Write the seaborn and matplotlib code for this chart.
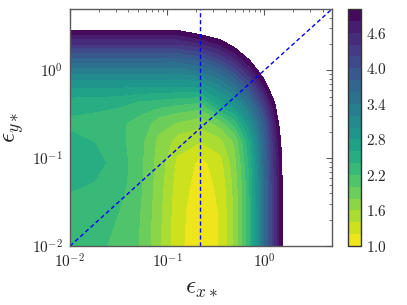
import numpy as np
import matplotlib
matplotlib.use("Agg")
import matplotlib.pyplot as plt
import seaborn as sns
from matplotlib.ticker import FixedLocator, LogLocator, FuncFormatter, NullFormatter

# ---- data -----------------------------------------------------------------
# grid exponents (log10 of eps_x*, eps_y*)
x_exp = [-2.0, -1.75, -1.5, -1.3, -1.1, -0.9, -0.66, -0.45, -0.3, -0.15, 0.0, 0.1, 0.2, 0.7]
y_exp = [-2.0, -1.6, -1.3, -1.05, -0.8, -0.6, -0.4, -0.2, 0.0, 0.15, 0.3, 0.45, 0.55, 0.7]

# field values, one list per x column (bottom -> top)
z_x_m200 = [2.30, 2.36, 2.42, 2.53, 2.44, 2.36, 2.47, 2.78, 3.31, 3.80, 4.40, 4.97, 5.37, 6.0]
z_x_m175 = [2.27, 2.32, 2.39, 2.47, 2.39, 2.33, 2.45, 2.78, 3.31, 3.80, 4.40, 4.97, 5.37, 6.0]
z_x_m150 = [2.11, 2.20, 2.28, 2.29, 2.25, 2.23, 2.42, 2.78, 3.31, 3.80, 4.40, 4.97, 5.37, 6.0]
z_x_m130 = [2.00, 2.03, 2.06, 2.07, 2.08, 2.14, 2.30, 2.77, 3.31, 3.80, 4.40, 4.97, 5.37, 6.0]
z_x_m110 = [1.65, 1.67, 1.70, 1.72, 1.76, 1.90, 2.25, 2.76, 3.31, 3.80, 4.40, 4.97, 5.37, 6.0]
z_x_m090 = [1.25, 1.26, 1.30, 1.36, 1.52, 1.78, 2.18, 2.75, 3.30, 3.80, 4.40, 4.98, 5.37, 6.0]
z_x_m066 = [1.05, 1.07, 1.10, 1.14, 1.42, 1.68, 2.10, 2.78, 3.42, 3.95, 4.56, 5.20, 5.55, 6.1]
z_x_m045 = [1.22, 1.22, 1.26, 1.33, 1.55, 1.90, 2.64, 3.12, 3.73, 4.29, 4.83, 5.42, 5.82, 6.3]
z_x_m030 = [1.64, 1.65, 1.68, 1.74, 1.85, 2.30, 2.90, 3.44, 4.11, 4.65, 5.18, 5.76, 6.10, 6.6]
z_x_m015 = [2.36, 2.36, 2.38, 2.45, 2.58, 2.98, 3.42, 3.98, 4.64, 5.13, 5.67, 6.20, 6.50, 7.0]
z_x_p000 = [3.55, 3.55, 3.57, 3.62, 3.70, 3.88, 4.23, 4.75, 5.33, 5.80, 6.30, 6.70, 7.00, 7.5]
z_x_p010 = [4.34, 4.34, 4.36, 4.40, 4.48, 4.62, 4.90, 5.35, 5.88, 6.20, 6.60, 7.00, 7.30, 7.8]
z_x_p020 = [5.11, 5.11, 5.12, 5.15, 5.25, 5.45, 5.70, 6.00, 6.40, 6.80, 7.20, 7.60, 7.90, 8.3]
z_x_p070 = [8.0, 8.0, 8.0, 8.0, 8.0, 8.0, 8.0, 8.0, 8.0, 8.0, 8.0, 8.0, 8.0, 8.0]

levels = [1.0 + 0.2 * i for i in range(21)]
cbar_ticks = [1.0, 1.6, 2.2, 2.8, 3.4, 4.0, 4.6]
x_major = [0.01, 0.1, 1.0]
y_major = [0.01, 0.1, 1.0]
axis_lim = [0.01, 5.0]
vline_x = 0.22
diag = [0.01, 5.0]

# ---- style ----------------------------------------------------------------
sns.set_theme(style="white")
plt.rcParams.update({
    "mathtext.fontset": "cm",
    "font.family": ["DejaVu Serif"],
    "xtick.direction": "in",
    "ytick.direction": "in",
    "xtick.top": True,
    "ytick.right": True,
    "axes.edgecolor": "0.35",
    "axes.linewidth": 1.0,
})

fig = plt.figure(figsize=(4.07, 3.05), dpi=100)
ax = fig.add_axes([70 / 407, 1 - 246 / 305, 262 / 407, 237 / 305])
cax = fig.add_axes([347.5 / 407, 1 - 246 / 305, 13 / 407, 237 / 305])

cols = [z_x_m200, z_x_m175, z_x_m150, z_x_m130, z_x_m110, z_x_m090, z_x_m066,
        z_x_m045, z_x_m030, z_x_m015, z_x_p000, z_x_p010, z_x_p020, z_x_p070]
Z = np.column_stack([np.asarray(c) for c in cols])
Xg, Yg = np.meshgrid(10.0 ** np.asarray(x_exp), 10.0 ** np.asarray(y_exp))

cmap = sns.color_palette("viridis_r", as_cmap=True)
cs = ax.contourf(Xg, Yg, Z, levels=levels, cmap=cmap)

ax.set_xscale("log")
ax.set_yscale("log")
ax.set_xlim(axis_lim)
ax.set_ylim(axis_lim)

line_color = "#0000ff"
ax.axvline(vline_x, color=line_color, linestyle=(0, (3, 2)), lw=1)
sns.lineplot(x=diag, y=diag, ax=ax, color=line_color, lw=1, linestyle=(0, (3, 2)))

fmt = FuncFormatter(lambda v, p: r"$10^{%d}$" % int(round(np.log10(v))))
ax.xaxis.set_major_locator(FixedLocator(x_major))
ax.yaxis.set_major_locator(FixedLocator(y_major))
ax.xaxis.set_major_formatter(fmt)
ax.yaxis.set_major_formatter(fmt)
ax.xaxis.set_minor_locator(LogLocator(base=10, subs=np.arange(2, 10)))
ax.yaxis.set_minor_locator(LogLocator(base=10, subs=np.arange(2, 10)))
ax.xaxis.set_minor_formatter(NullFormatter())
ax.yaxis.set_minor_formatter(NullFormatter())
ax.tick_params(which="major", length=4, width=0.8, color="0.35", labelsize=11, pad=5)
ax.tick_params(which="minor", length=2, width=0.6, color="0.35")
for s in ax.spines.values():
    s.set_color("0.35")

ax.set_xlabel(r"$\epsilon_{x*}$", fontsize=18, labelpad=4)
ax.set_ylabel(r"$\epsilon_{y*}$", fontsize=18, labelpad=4)

cb = fig.colorbar(cs, cax=cax, ticks=cbar_ticks)
cb.ax.yaxis.set_major_formatter(FuncFormatter(lambda v, p: r"$%.1f$" % v))
cb.ax.tick_params(length=0, labelsize=11, pad=4)
cb.outline.set_edgecolor("0.2")
cb.outline.set_linewidth(1.0)

fig.savefig("out.png", dpi=100)
